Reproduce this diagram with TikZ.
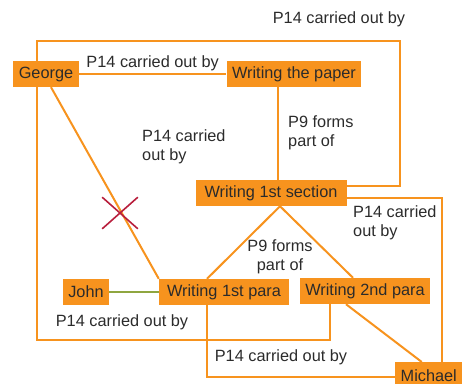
\documentclass[tikz,border=0pt]{standalone}
\usepackage{fontspec}
\setmainfont{Liberation Sans}
\usetikzlibrary{positioning,shapes.misc}

\definecolor{crmOrange}{HTML}{F7931E}
\definecolor{crmText}{HTML}{2B2B2B}
\definecolor{crmGreen}{HTML}{8FA640}
\definecolor{crmRed}{HTML}{B81E3C}

\begin{document}
\begin{tikzpicture}[
	x=1pt, y=-1pt,
	font=\fontsize{16.3}{19}\selectfont,
	text=crmText,
	ent/.style={
		fill=crmOrange,
		minimum height=26pt,
		inner xsep=5.5pt,
		inner ysep=3pt,
	},
	rel/.style={draw=crmOrange, line width=2pt},
	same/.style={draw=crmGreen, line width=2pt},
	lbl/.style={align=left, inner sep=0pt},
]
\clip (0,0) rectangle (462,383);

% --- Entities ---
\node[ent] (george)  at (46,74)   {George};
\node[ent] (paper)   at (294,74)  {Writing the paper};
\node[ent, minimum width=151pt] (sect) at (271,193) {Writing 1st section};
\node[ent] (john)    at (86,292)  {John};
\node[ent, minimum width=130pt] (para1) at (224,292) {Writing 1st para};
\node[ent] (para2)   at (365,291) {Writing 2nd para};
\node[ent, anchor=north west] (michael) at (395,362) {Michael};

% --- Loop corners ---
\coordinate (topR) at (400,41);

% --- Relations ---
% George carried out the paper
\draw[rel] (george) -- (paper)
	node[midway, above=2pt, inner sep=0pt] (l1) {P14 carried out by};

% George round the top to the 1st section
\draw[rel] ([xshift=-9pt]george.north) |- (topR) |- ([yshift=7pt]sect.east);
\node[lbl] (l2) at (339,19) {P14 carried out by};

% paper <- 1st section
\draw[rel] ([xshift=-16pt]paper.south) -- ([xshift=-16pt]paper.south |- sect.north);
\node[lbl, anchor=west] (l3) at (288,133) {P9 forms\\part of};

% George to 1st para (crossed out)
\draw[rel] ([xshift=5pt]george.south) -- (para1.north west);
\node[lbl, anchor=west] (l4) at (142,147) {P14 carried\\out by};
\node[draw=crmRed, line width=1.6pt, cross out, minimum width=34pt,
	minimum height=30pt] (cut) at (120,213) {};

% John same as 1st para
\draw[same] (john) -- (para1);

% paragraphs form part of the 1st section
\draw[rel] ([xshift=9pt]sect.south) -- ([xshift=-17pt]para1.north);
\draw[rel] ([xshift=9pt]sect.south) -- ([xshift=-12pt]para2.north);
\node[lbl, align=center] (l5) at (280,257) {P9 forms\\part of};

% George round the bottom to the 2nd para
\draw[rel] ([xshift=-9pt]george.south)
	|- ([xshift=-35pt, yshift=-36pt]para2.south) -- ([xshift=-35pt]para2.south);
\node[lbl] (l6) at (122,322) {P14 carried out by};

% Michael
\draw[rel] ([yshift=-5pt]sect.east) -| ([xshift=13pt]michael.north);
\node[lbl, anchor=west] (l7) at (353,223) {P14 carried\\out by};
\draw[rel] ([xshift=-19pt]para2.south) -- ([xshift=-7pt]michael.north);
\draw[rel] ([xshift=-17pt]para1.south) |- ([yshift=-2pt]michael.west);
\node[lbl] (l8) at (281,357) {P14 carried out by};

\end{tikzpicture}
\end{document}
